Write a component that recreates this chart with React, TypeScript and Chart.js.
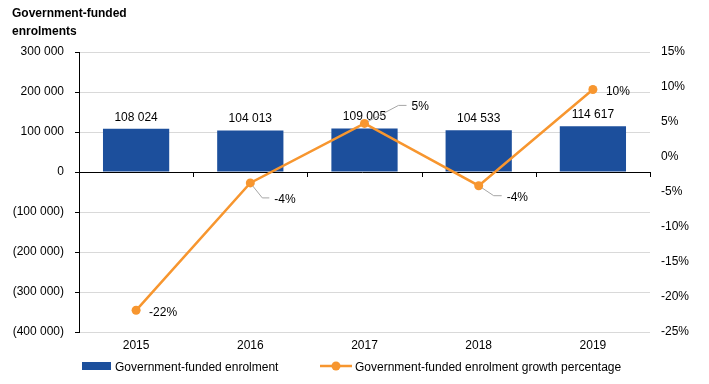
import React, { useEffect, useRef } from "react";
import { Chart, registerables } from "chart.js";

Chart.register(...registerables);

const categories = ["2015", "2016", "2017", "2018", "2019"];
const enrolments = [108024, 104013, 109005, 104533, 114617];
const growthPct = [-21.9, -3.7, 4.8, -4.1, 9.65];

const titleLines = ["Government-funded", "enrolments"];
const barLegend = "Government-funded enrolment";
const lineLegend = "Government-funded enrolment growth percentage";

const BAR_COLOR = "#1c4f9c";
const LINE_COLOR = "#f7962f";
const FONT = '"Liberation Sans", Arial, sans-serif';

// label placement (style only), relative to the point pixel
const lineLabelStyle = [
  { tx: 13, ty: 2.5 },
  { lx: 12, ly: 15, hx: 19, tx: 24, ty: 16.5 },
  { lx: 34, ly: -18, hx: 42, tx: 47, ty: -16.5 },
  { lx: 15, ly: 10, hx: 23, tx: 28, ty: 11.5 },
  { tx: 13, ty: 2.5 },
];

function fmtThousands(v: number): string {
  const s = Math.abs(v).toString().replace(/\B(?=(\d{3})+(?!\d))/g, " ");
  return v < 0 ? `(${s})` : s;
}

const overlayPlugin = {
  id: "overlay",
  beforeDatasetsDraw(chart: any) {
    const { ctx, chartArea, scales } = chart;
    const y0 = scales.y.getPixelForValue(0);
    ctx.save();
    ctx.strokeStyle = "#000";
    ctx.lineWidth = 1;
    ctx.beginPath();
    ctx.moveTo(chartArea.left - 4, Math.round(y0) + 0.5);
    ctx.lineTo(chartArea.right, Math.round(y0) + 0.5);
    const n = categories.length;
    const w = (chartArea.right - chartArea.left) / n;
    for (let i = 1; i <= n; i++) {
      const x = Math.round(chartArea.left + w * i) + 0.5;
      ctx.moveTo(x, Math.round(y0));
      ctx.lineTo(x, Math.round(y0) + 5);
    }
    ctx.stroke();
    ctx.restore();
  },
  afterDatasetsDraw(chart: any) {
    const { ctx } = chart;
    ctx.save();
    ctx.font = `12px ${FONT}`;
    ctx.fillStyle = "#000";
    ctx.textBaseline = "middle";
    // bar labels
    const barMeta = chart.getDatasetMeta(0);
    ctx.textAlign = "center";
    barMeta.data.forEach((el: any, i: number) => {
      ctx.fillText(fmtThousands(enrolments[i]), el.x, el.y - 11.5);
    });
    // line labels
    const lineMeta = chart.getDatasetMeta(1);
    ctx.textAlign = "left";
    lineMeta.data.forEach((el: any, i: number) => {
      const s = lineLabelStyle[i] as any;
      const px = el.x;
      const py = el.y;
      if (s.lx !== undefined) {
        const len = Math.hypot(s.lx, s.ly);
        ctx.strokeStyle = "#a6a6a6";
        ctx.lineWidth = 1;
        ctx.beginPath();
        ctx.moveTo(px + (s.lx / len) * 4, py + (s.ly / len) * 4);
        ctx.lineTo(px + s.lx, py + s.ly);
        ctx.lineTo(px + s.hx, py + s.ly);
        ctx.stroke();
      }
      ctx.fillText(`${Math.round(growthPct[i])}%`, px + s.tx, py + s.ty);
    });
    ctx.restore();
  },
  afterDraw(chart: any) {
    const { ctx } = chart;
    ctx.save();
    ctx.fillStyle = "#000";
    ctx.textBaseline = "middle";
    ctx.textAlign = "left";
    ctx.font = `bold 12px ${FONT}`;
    ctx.fillText(titleLines[0], 12, 13.5);
    ctx.fillText(titleLines[1], 12, 31.5);
    // legend
    ctx.font = `12px ${FONT}`;
    ctx.fillStyle = BAR_COLOR;
    ctx.fillRect(82, 362, 29, 8);
    ctx.fillStyle = "#000";
    ctx.fillText(barLegend, 115, 367.5);
    ctx.strokeStyle = LINE_COLOR;
    ctx.lineWidth = 2.5;
    ctx.beginPath();
    ctx.moveTo(320, 366);
    ctx.lineTo(352, 366);
    ctx.stroke();
    ctx.fillStyle = LINE_COLOR;
    ctx.beginPath();
    ctx.arc(336, 366, 4.5, 0, Math.PI * 2);
    ctx.fill();
    ctx.fillStyle = "#000";
    ctx.fillText(lineLegend, 355, 367.5);
    ctx.restore();
  },
};

export default function App() {
  const ref = useRef<HTMLCanvasElement | null>(null);
  useEffect(() => {
    if (!ref.current) return;
    Chart.defaults.font.family = FONT;
    Chart.defaults.font.size = 12;
    Chart.defaults.color = "#000";
    const chart = new Chart(ref.current, {
      type: "bar",
      data: {
        labels: categories,
        datasets: [
          {
            type: "bar",
            label: barLegend,
            data: enrolments,
            backgroundColor: BAR_COLOR,
            yAxisID: "y",
            barPercentage: 0.58,
            categoryPercentage: 1,
            order: 2,
          },
          {
            type: "line",
            label: lineLegend,
            data: growthPct,
            borderColor: LINE_COLOR,
            backgroundColor: LINE_COLOR,
            borderWidth: 2.5,
            pointRadius: 4.5,
            pointBorderWidth: 0,
            pointBackgroundColor: LINE_COLOR,
            yAxisID: "y1",
            order: 1,
            tension: 0,
          } as any,
        ],
      },
      options: {
        responsive: false,
        animation: false,
        devicePixelRatio: 1,
        layout: { padding: { top: 52, left: 0, right: 0, bottom: 0 } },
        plugins: {
          legend: { display: false },
          tooltip: { enabled: false },
          title: { display: false },
        },
        scales: {
          x: {
            grid: { display: false, drawTicks: false },
            border: { display: false },
            ticks: { padding: 6, maxRotation: 0, font: { size: 12 } },
            afterFit(scale: any) {
              scale.height = 52;
            },
          },
          y: {
            position: "left",
            min: -400000,
            max: 300000,
            ticks: {
              stepSize: 100000,
              padding: 11,
              callback: (v: any) => fmtThousands(Number(v)),
            },
            grid: {
              color: "#d9d9d9",
              tickColor: "#000",
              tickLength: 4,
              lineWidth: 1,
            },
            border: { display: true, color: "#000", width: 1 },
            afterFit(scale: any) {
              scale.width = 79;
            },
          },
          y1: {
            position: "right",
            min: -25,
            max: 15,
            ticks: {
              stepSize: 5,
              padding: 11,
              callback: (v: any) => `${v}%`,
            },
            grid: { display: false, drawTicks: false },
            border: { display: false },
            afterFit(scale: any) {
              scale.width = 59;
            },
          },
        },
      } as any,
      plugins: [overlayPlugin],
    });
    return () => chart.destroy();
  }, []);
  return (
    <div style={{ position: "fixed", left: 0, top: 0, width: 709, height: 384, background: "#fff" }}>
      <canvas ref={ref} width={709} height={384} style={{ width: 709, height: 384 }} />
    </div>
  );
}
